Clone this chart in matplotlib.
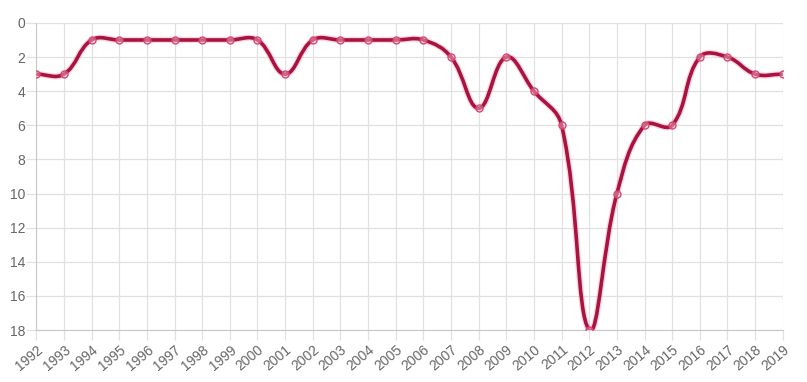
import numpy as np
import matplotlib.pyplot as plt
from matplotlib.path import Path
from matplotlib.patches import PathPatch

plt.rcParams['font.family'] = ['Liberation Sans', 'DejaVu Sans']

years = list(range(1992, 2020))
ranks = [3, 3, 1, 1, 1, 1, 1, 1, 1, 3, 1, 1, 1, 1, 1, 2, 5, 2, 4, 6, 18, 10, 6, 6, 2, 2, 3, 3]
y_ticks = list(range(0, 19, 2))

# chart.js-style bezier control points (tension 0.4), distances in approx pixel space
sx, sy = 27.7, 17.05
tension = 0.4


def bezier_path(xs, ys):
    n = len(xs)
    px = np.array(xs, float) * sx
    py = np.array(ys, float) * sy
    c_prev = []
    c_next = []
    for i in range(n):
        p0 = i - 1 if i > 0 else i
        p2 = i + 1 if i < n - 1 else i
        d01 = np.hypot(px[i] - px[p0], py[i] - py[p0])
        d12 = np.hypot(px[p2] - px[i], py[p2] - py[i])
        tot = d01 + d12
        s01 = d01 / tot if tot else 0
        s12 = d12 / tot if tot else 0
        fa, fb = tension * s01, tension * s12
        dx, dy = px[p2] - px[p0], py[p2] - py[p0]
        c_prev.append((px[i] - fa * dx, py[i] - fa * dy))
        c_next.append((px[i] + fb * dx, py[i] + fb * dy))
    verts = [(px[0], py[0])]
    codes = [Path.MOVETO]
    for i in range(1, n):
        verts += [c_next[i - 1], c_prev[i], (px[i], py[i])]
        codes += [Path.CURVE4] * 3
    verts = [(vx / sx, vy / sy) for vx, vy in verts]
    return Path(verts, codes)


fig = plt.figure(figsize=(8.07, 3.82), dpi=100)
ax = fig.add_axes([0.045, 0.136, 0.925, 0.804])

path = bezier_path(years, ranks)
ax.add_patch(PathPatch(path, fill=False, edgecolor='#f27aa0', lw=4.5, alpha=0.3, zorder=2))
ax.add_patch(PathPatch(path, fill=False, edgecolor='#a8143f', lw=2.6, zorder=3))
ax.plot(years, ranks, 'o', ms=5, mfc=(1, 0.85, 0.9, 0.4), mec='#d94475', mew=1.0, zorder=4)

ax.set_xlim(1992, 2019)
ax.set_ylim(18, 0)
ax.set_xticks(years)
ax.set_xticklabels([str(y) for y in years], rotation=40, ha='right', rotation_mode='anchor')
ax.set_yticks(y_ticks)
ax.grid(True, color='#e1e1e1', lw=0.9)
ax.set_axisbelow(True)
for s in ['top', 'right']:
    ax.spines[s].set_visible(False)
for s in ['left', 'bottom']:
    ax.spines[s].set_color('#c8c8c8')
ax.tick_params(colors='#e1e1e1', labelcolor='#666666', labelsize=10, length=7, width=0.9)
ax.tick_params(axis='x', pad=2)
ax.tick_params(axis='y', pad=1)

fig.savefig('out.png', dpi=100)
